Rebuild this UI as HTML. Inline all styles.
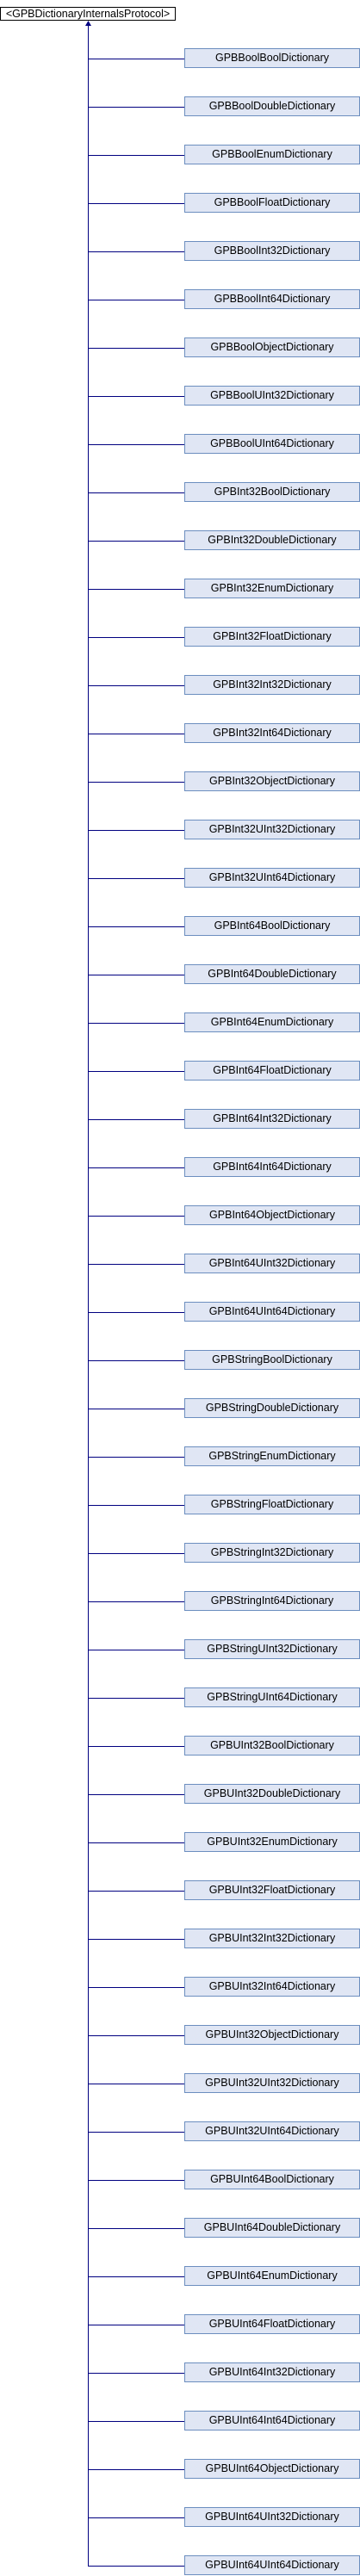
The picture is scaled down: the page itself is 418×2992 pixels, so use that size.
<!DOCTYPE html>
<html><head><style>
body{margin:0;width:418px;height:2992px;background:#fff;position:relative;font-family:"Liberation Sans",Arial,sans-serif;}
.t{position:absolute;left:0;top:8px;width:202px;height:14px;border:1px solid #000;background:#fff;font-size:12.5px;line-height:14px;text-align:center;white-space:nowrap;}
.b{position:absolute;left:214px;width:202px;height:21px;border:1px solid #6c8ebf;background:#e0e6f4;font-size:12.5px;line-height:21px;text-align:center;color:#000;white-space:nowrap;}
.h{position:absolute;left:102px;width:112px;height:1px;background:#000080;}
</style></head><body>
<div class="t">&lt;GPBDictionaryInternalsProtocol&gt;</div>
<div style="position:absolute;left:102px;top:29px;width:1px;height:2952px;background:#000080"></div>
<svg style="position:absolute;left:99px;top:24px" width="7" height="7"><polygon points="3.5,0 0,6 7,6" fill="#000080"/></svg>
<div id="c"></div>
<script>
var n=["BoolBool","BoolDouble","BoolEnum","BoolFloat","BoolInt32","BoolInt64","BoolObject","BoolUInt32","BoolUInt64",
"Int32Bool","Int32Double","Int32Enum","Int32Float","Int32Int32","Int32Int64","Int32Object","Int32UInt32","Int32UInt64",
"Int64Bool","Int64Double","Int64Enum","Int64Float","Int64Int32","Int64Int64","Int64Object","Int64UInt32","Int64UInt64",
"StringBool","StringDouble","StringEnum","StringFloat","StringInt32","StringInt64","StringUInt32","StringUInt64",
"UInt32Bool","UInt32Double","UInt32Enum","UInt32Float","UInt32Int32","UInt32Int64","UInt32Object","UInt32UInt32","UInt32UInt64",
"UInt64Bool","UInt64Double","UInt64Enum","UInt64Float","UInt64Int32","UInt64Int64","UInt64Object","UInt64UInt32","UInt64UInt64"];
var h="";
for(var i=0;i<n.length;i++){var y=56+56*i;
h+='<div class="h" style="top:'+(y+12)+'px"></div><div class="b" style="top:'+y+'px">GPB'+n[i]+'Dictionary</div>';}
document.getElementById("c").innerHTML=h;
</script>
</body></html>
